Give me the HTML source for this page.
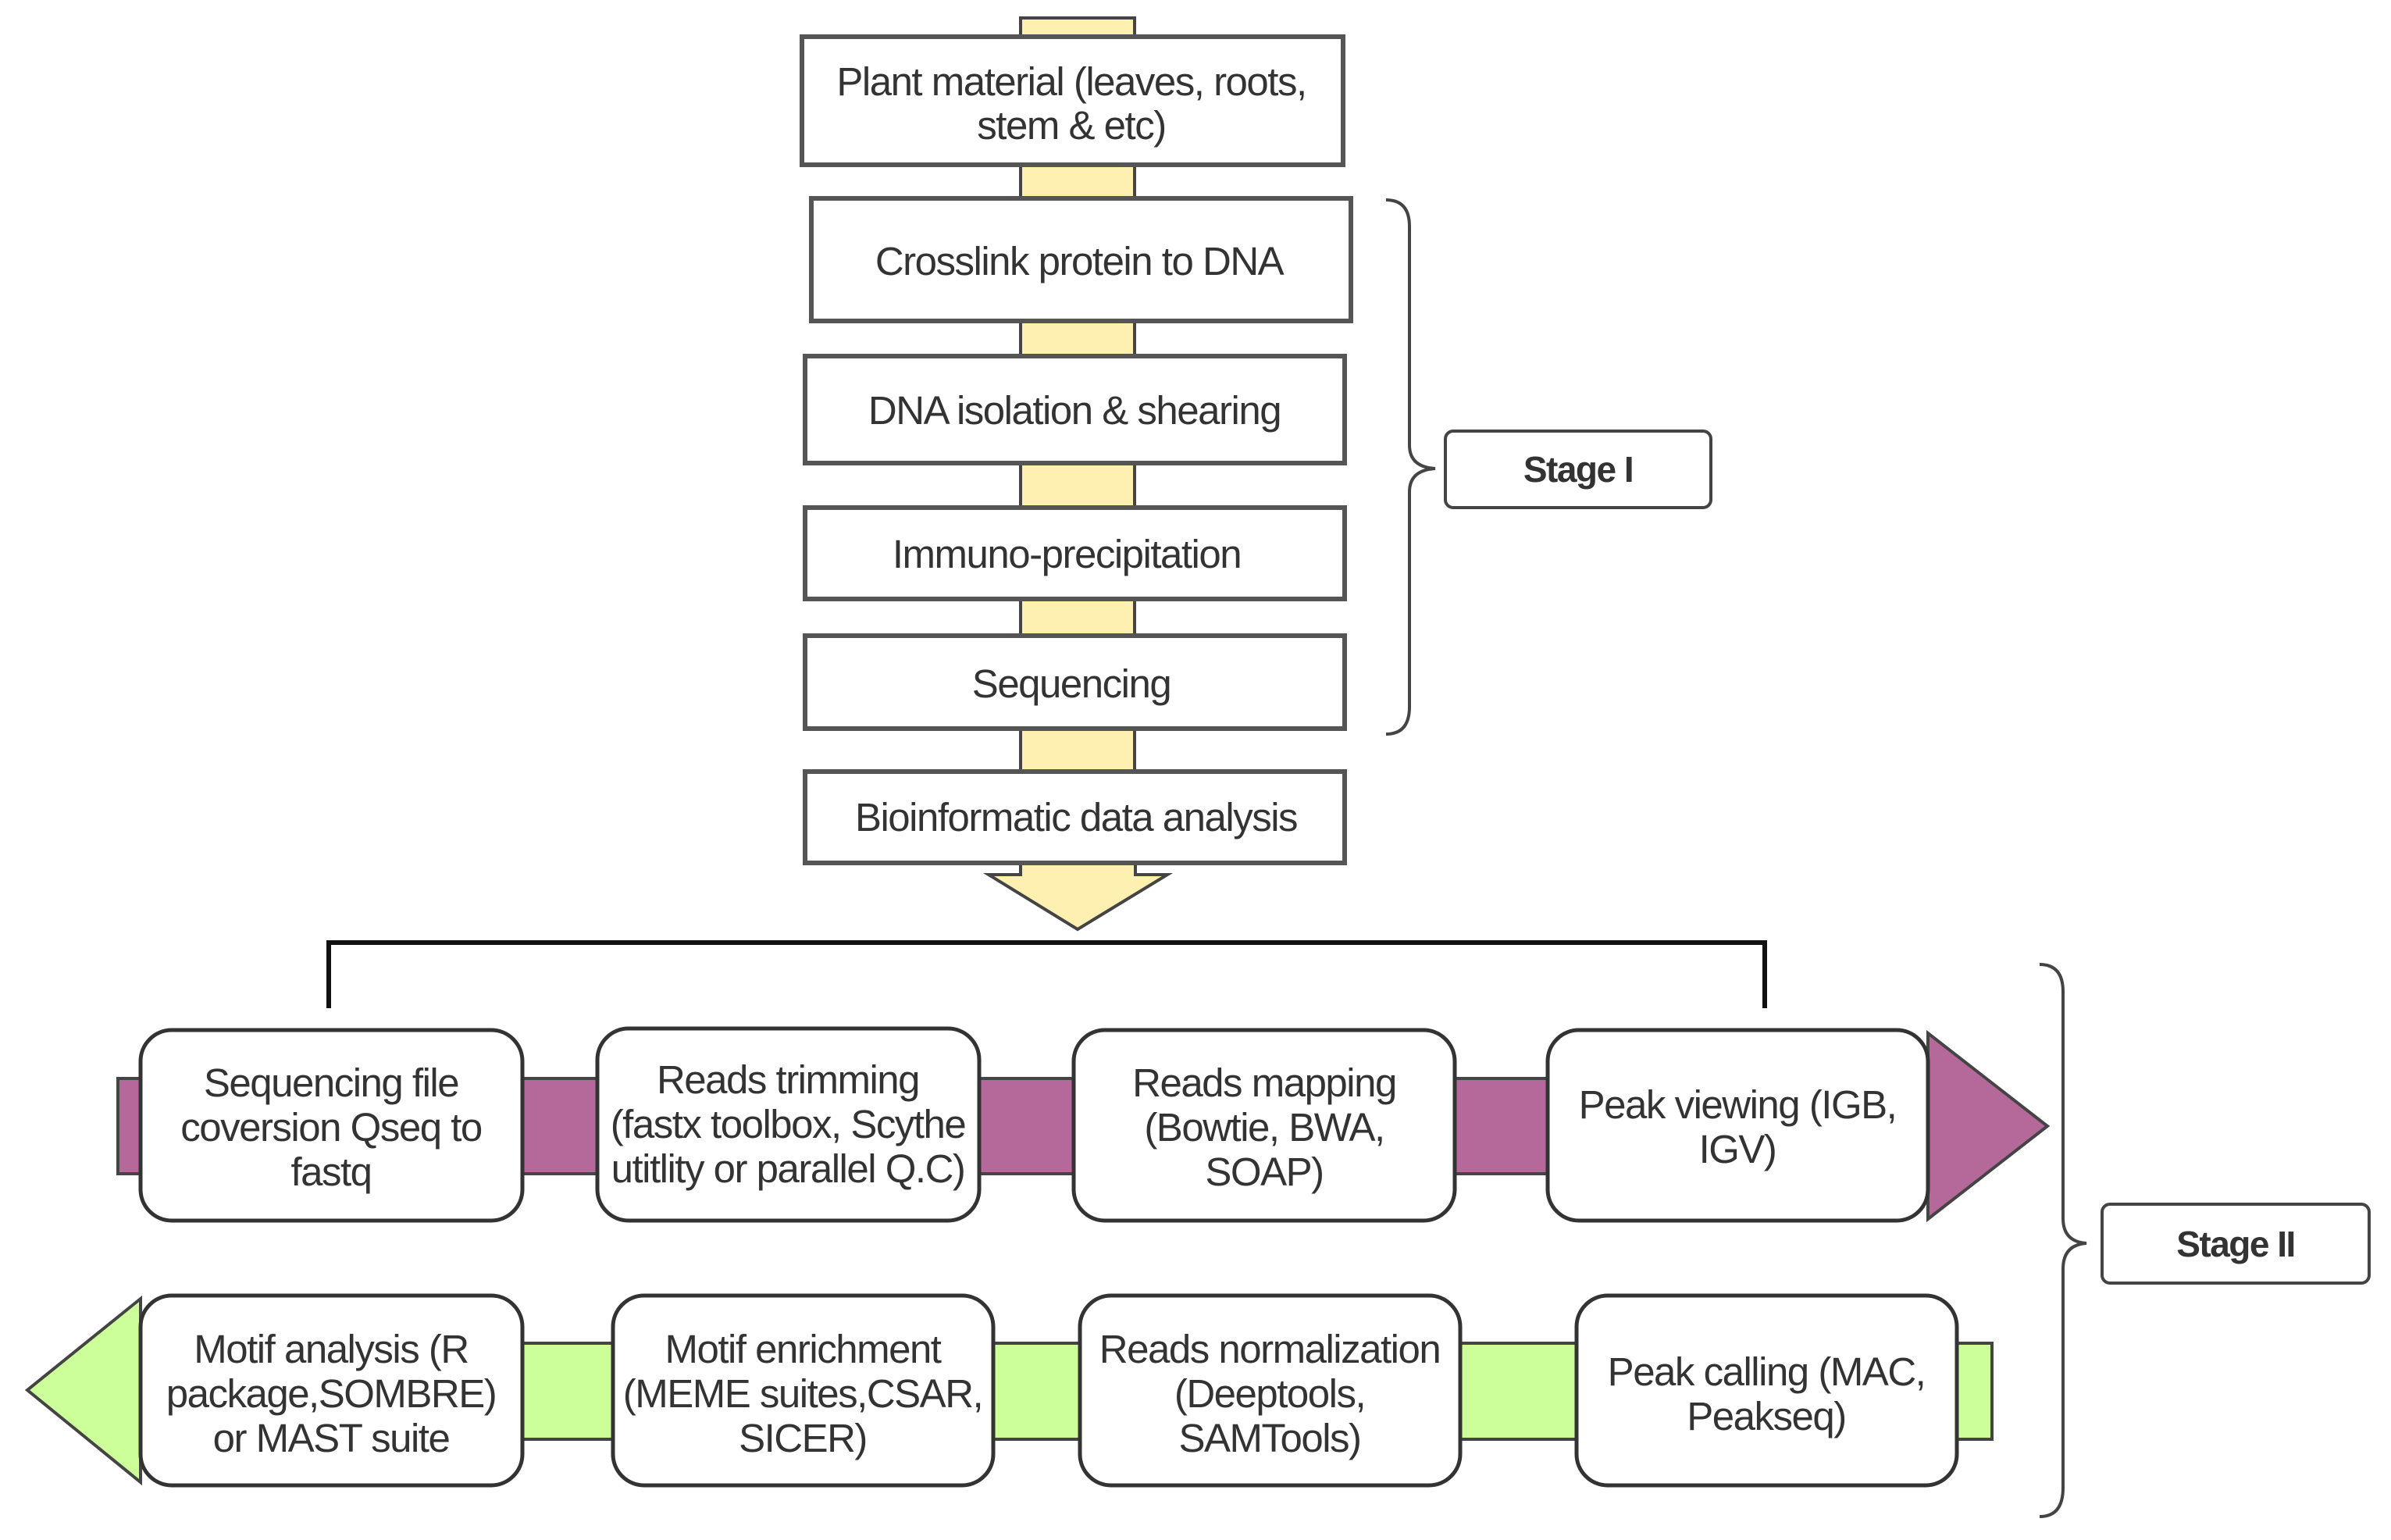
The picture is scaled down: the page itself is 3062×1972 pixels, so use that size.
<!DOCTYPE html>
<html><head><meta charset="utf-8"><style>
html,body{margin:0;padding:0;background:#fff}
svg text{font-family:"Liberation Sans",sans-serif;fill:#333;font-size:51px;text-anchor:middle;letter-spacing:-1.5px}
</style></head><body>
<svg width="3062" height="1967" viewBox="0 0 3062 1967" xmlns="http://www.w3.org/2000/svg">
<g fill="#fdf0b0" stroke="#444" stroke-width="4">
<rect x="1307" y="23" width="146" height="1000"/>
<polygon points="1307,1120 1266,1120 1380,1190 1495,1120 1454,1120 1454,1100 1307,1100"/>
</g>
<g fill="#fff" stroke="#555" stroke-width="6">
<rect x="1027" y="47" width="693" height="164"/>
<rect x="1039" y="254" width="691" height="157"/>
<rect x="1031" y="456" width="691" height="137"/>
<rect x="1031" y="650" width="691" height="117"/>
<rect x="1031" y="814" width="691" height="119"/>
<rect x="1031" y="988" width="691" height="117"/>
</g>
<text x="1372" y="122">Plant material (leaves, roots,</text>
<text x="1372" y="178">stem &amp; etc)</text>
<text x="1382" y="352">Crosslink protein to DNA</text>
<text x="1376" y="543">DNA isolation &amp; shearing</text>
<text x="1366" y="727">Immuno-precipitation</text>
<text x="1372" y="893">Sequencing</text>
<text x="1378" y="1064">Bioinformatic data analysis</text>
<!-- stage I -->
<path d="M1775,256 Q1805,256 1805,290 L1805,570 Q1805,598 1838,600 Q1805,602 1805,630 L1805,905 Q1805,940 1775,940" fill="none" stroke="#444" stroke-width="4"/>
<rect x="1851" y="552" width="340" height="98" rx="10" fill="#fff" stroke="#444" stroke-width="4"/>
<text x="2021" y="617" style="font-weight:bold;font-size:46px">Stage I</text>
<!-- bracket -->
<path d="M421,1291 L421,1207 L2260,1207 L2260,1291" fill="none" stroke="#111" stroke-width="6"/>
<!-- purple arrow -->
<polygon points="151,1381 2469,1381 2469,1323 2622,1442 2469,1561 2469,1503 151,1503" fill="#b5689a" stroke="#444" stroke-width="4"/>
<!-- green arrow -->
<polygon points="2551,1720 180,1720 180,1663 35,1780 180,1898 180,1843 2551,1843" fill="#ccff99" stroke="#444" stroke-width="4"/>
<g fill="#fff" stroke="#333" stroke-width="5">
<rect x="180" y="1319" width="489" height="244" rx="40"/>
<rect x="765" y="1317" width="489" height="246" rx="40"/>
<rect x="1375" y="1319" width="488" height="244" rx="40"/>
<rect x="1982" y="1319" width="487" height="244" rx="40"/>
<rect x="180" y="1659" width="489" height="243" rx="40"/>
<rect x="785" y="1659" width="487" height="243" rx="40"/>
<rect x="1383" y="1659" width="487" height="243" rx="40"/>
<rect x="2019" y="1659" width="487" height="243" rx="40"/>
</g>
<text x="424" y="1404">Sequencing file</text>
<text x="424" y="1461">coversion Qseq to</text>
<text x="424" y="1518">fastq</text>
<text x="1009" y="1400">Reads trimming</text>
<text x="1009" y="1457">(fastx toolbox, Scythe</text>
<text x="1009" y="1514">utitlity or parallel Q.C)</text>
<text x="1619" y="1404">Reads mapping</text>
<text x="1619" y="1461">(Bowtie, BWA,</text>
<text x="1619" y="1518">SOAP)</text>
<text x="2225" y="1432">Peak viewing (IGB,</text>
<text x="2225" y="1489">IGV)</text>
<text x="424" y="1745">Motif analysis (R</text>
<text x="424" y="1802">package,SOMBRE)</text>
<text x="424" y="1859">or MAST suite</text>
<text x="1028" y="1745">Motif enrichment</text>
<text x="1028" y="1802">(MEME suites,CSAR,</text>
<text x="1028" y="1859">SICER)</text>
<text x="1626" y="1745">Reads normalization</text>
<text x="1626" y="1802">(Deeptools,</text>
<text x="1626" y="1859">SAMTools)</text>
<text x="2262" y="1774">Peak calling (MAC,</text>
<text x="2262" y="1831">Peakseq)</text>
<!-- stage II -->
<path d="M2612,1235 Q2642,1235 2642,1270 L2642,1560 Q2642,1590 2672,1592 Q2642,1594 2642,1625 L2642,1905 Q2642,1942 2612,1942" fill="none" stroke="#444" stroke-width="4"/>
<rect x="2692" y="1542" width="342" height="101" rx="10" fill="#fff" stroke="#444" stroke-width="4"/>
<text x="2863" y="1609" style="font-weight:bold;font-size:46px">Stage II</text>
</svg>
</body></html>
